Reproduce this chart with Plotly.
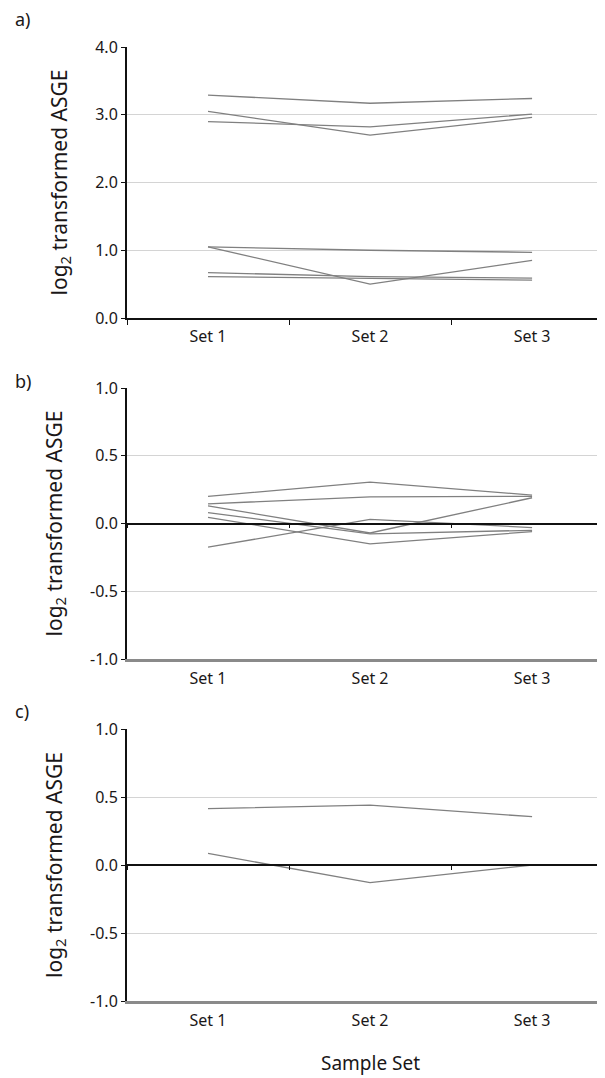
import plotly.graph_objects as go

sets = ["Set 1", "Set 2", "Set 3"]

# Panel a) log2 transformed ASGE
panel_a = [
    [3.29, 3.17, 3.24],
    [3.05, 2.70, 2.96],
    [2.90, 2.82, 3.01],
    [1.05, 1.00, 0.97],
    [1.05, 0.50, 0.85],
    [0.67, 0.61, 0.59],
    [0.61, 0.59, 0.56],
]
# Panel b)
panel_b = [
    [0.20, 0.305, 0.21],
    [0.145, 0.197, 0.20],
    [0.13, -0.07, 0.19],
    [0.08, -0.076, -0.05],
    [0.046, -0.15, -0.06],
    [-0.175, 0.03, -0.03],
]
# Panel c)
panel_c = [
    [0.415, 0.44, 0.355],
    [0.085, -0.13, 0.0],
]

ticks_a = [0, 1, 2, 3, 4]
ticks_a_text = ["0.0", "1.0", "2.0", "3.0", "4.0"]
ticks_bc = [-1, -0.5, 0, 0.5, 1]
ticks_bc_text = ["-1.0", "-0.5", "0.0", "0.5", "1.0"]

panel_labels = ["a)", "b)", "c)"]
y_title = "log<sub>2</sub> transformed ASGE"
x_title = "Sample Set"

# page body has an 8px margin, so work in figure pixels = reference - 8
OFF = 8
W, H = 605 - OFF, 1078 - OFF
L = 127 - OFF
top, bottom_px = 47 - OFF, 1001 - OFF
span = bottom_px - top
PW = W - L

def fy(ref_px):
    return (bottom_px - (ref_px - OFF)) / span

def fx(ref_px):
    return ((ref_px - OFF) - L) / PW

domains = [
    [fy(318), 1.0],
    [fy(659), fy(388)],
    [0.0, fy(729)],
]

FONT = "Noto Sans"
TXT = "#1a1718"
LINE = "#808080"
GRID = "#d4d4d4"
XR = [-0.5, 2.45]

fig = go.Figure()
for i, data in enumerate([panel_a, panel_b, panel_c]):
    ax = "" if i == 0 else str(i + 1)
    for row in data:
        fig.add_trace(go.Scatter(
            x=sets, y=row, mode="lines",
            line=dict(color=LINE, width=1.3),
            xaxis="x" + ax, yaxis="y" + ax,
            showlegend=False, hoverinfo="skip"))

common_x = dict(type="category", range=XR, tickson="boundaries",
                tickfont=dict(family=FONT, size=16, color=TXT),
                ticklabelstandoff=3,
                showgrid=False, zeroline=False, fixedrange=True)
common_y = dict(showline=True, linecolor="#111111", linewidth=2,
                ticks="outside", ticklen=4, tickcolor="#111111", tickwidth=1,
                tickfont=dict(family=FONT, size=16, color=TXT),
                gridcolor=GRID, gridwidth=1, zeroline=False,
                title=dict(text=y_title, font=dict(family=FONT, size=21, color=TXT),
                           standoff=22))

fig.update_layout(
    xaxis=dict(**common_x, anchor="y", domain=[0, 1], showline=True,
               linecolor="#111111", linewidth=2, ticks="outside", ticklen=5,
               tickcolor="#111111"),
    yaxis=dict(**common_y, domain=domains[0], range=[0, 4],
               tickvals=ticks_a, ticktext=ticks_a_text, anchor="x"),
)
for i in (1, 2):
    n = str(i + 1)
    fig.update_layout(**{
        "xaxis" + n: dict(**common_x, anchor="y" + n, domain=[0, 1], showline=True,
                          linecolor="#8a8a8a", linewidth=3, ticks=""),
        "yaxis" + n: dict(**common_y, domain=domains[i], range=[-1, 1],
                          tickvals=ticks_bc, ticktext=ticks_bc_text, anchor="x" + n),
    })

# overlay axes at zero for panels b and c (black zero line with boundary ticks)
for i, ov in ((1, 4), (2, 5)):
    n = str(i + 1)
    d = domains[i]
    fig.add_trace(go.Scatter(x=sets, y=[None, None, None], mode="lines",
                             xaxis="x" + str(ov), yaxis="y" + n,
                             showlegend=False, hoverinfo="skip"))
    fig.update_layout(**{
        "xaxis" + str(ov): dict(type="category", range=XR, tickson="boundaries",
                                overlaying="x" + n, anchor="free",
                                position=(d[0] + d[1]) / 2,
                                showline=True, linecolor="#111111", linewidth=1.5,
                                ticks="outside", ticklen=4, tickcolor="#111111",
                                showticklabels=False, showgrid=False, zeroline=False),
    })

annos = []
for lab, ypx in zip(panel_labels, [19, 381, 711]):
    annos.append(dict(text=lab, x=fx(13), y=fy(ypx), xref="paper", yref="paper",
                      xanchor="left", yanchor="middle", showarrow=False,
                      font=dict(family=FONT, size=18, color=TXT)))
annos.append(dict(text=x_title, x=fx(370), y=fy(1063), xref="paper", yref="paper",
                  xanchor="center", yanchor="middle", showarrow=False,
                  font=dict(family=FONT, size=19, color=TXT)))
fig.update_layout(annotations=annos)
fig.update_layout(
    width=W, height=H,
    margin=dict(l=L, r=0, t=top, b=H - bottom_px, autoexpand=False),
    paper_bgcolor="white", plot_bgcolor="white",
    font=dict(family=FONT, color=TXT),
)

fig.write_html("out.html")
